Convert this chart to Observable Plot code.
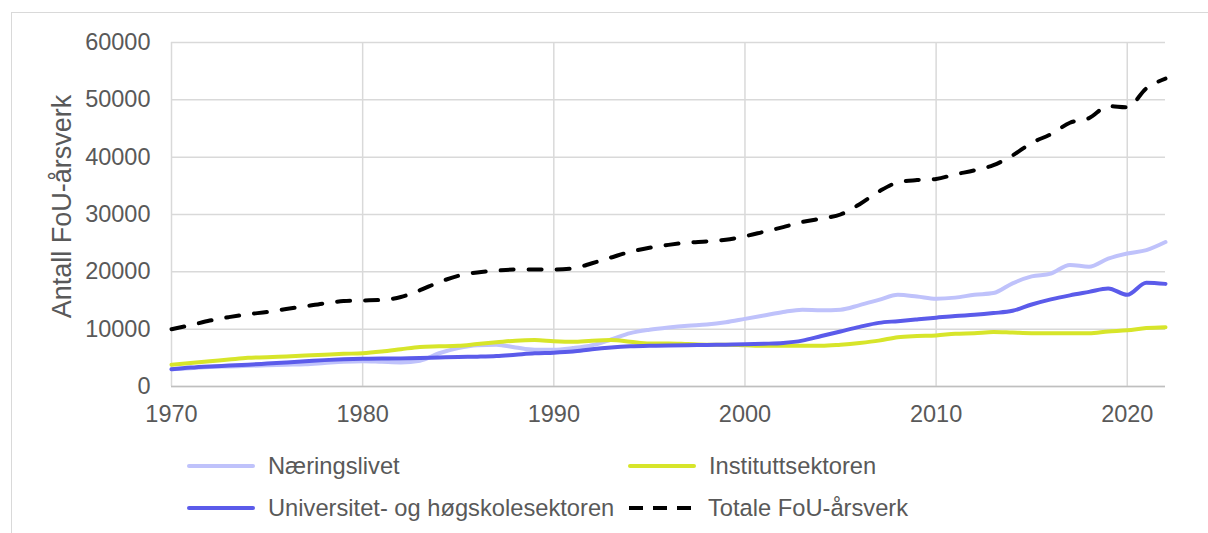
<!DOCTYPE html>
<html>
<head>
<meta charset="utf-8">
<script src="https://cdn.jsdelivr.net/npm/d3@7"></script>
<script src="https://cdn.jsdelivr.net/npm/@observablehq/plot@0.6"></script>
<style>
  html, body { margin: 0; padding: 0; background: #fff; }
  #wrap { position: relative; width: 1208px; height: 533px; overflow: hidden; font-family: "Liberation Sans", Arial, sans-serif; color: #595959; }
  #frame { position: absolute; left: 11px; top: 12px; width: 1200px; height: 530px; border-left: 1.5px solid #d9d9d9; border-top: 1.5px solid #d9d9d9; }
  #chart { position: absolute; left: 0; top: 0; }
  .leg { position: absolute; display: flex; align-items: center; font-size: 23.7px; color: #595959; white-space: nowrap; }
  .leg svg { margin-right: 13px; }
</style>
</head>
<body>
<div id="wrap">
  <div id="frame"></div>
  <div id="chart"></div>
  <div id="legend"></div>
</div>
<script>
const years = d3.range(1970, 2023);
const naeringslivet = [3000,3200,3400,3500,3600,3700,3800,3900,4100,4300,
  4400,4300,4200,4500,5800,6700,7200,7300,6800,6400,
  6400,6700,7200,8200,9300,9900,10300,10600,10800,11200,
  11800,12400,13000,13400,13300,13400,14200,15100,16000,15700,
  15300,15500,16000,16300,18000,19200,19700,21200,20900,22300,
  23200,23800,25200];
const instituttsektoren = [3800,4100,4400,4700,5000,5100,5250,5400,5550,5700,
  5800,6100,6500,6900,7000,7100,7400,7700,8000,8100,
  7900,7800,8000,8100,7800,7500,7500,7400,7300,7300,
  7200,7100,7100,7100,7100,7300,7600,8000,8600,8800,
  8900,9200,9300,9500,9400,9300,9300,9300,9300,9600,
  9800,10200,10350];
const universitet = [3000,3300,3500,3650,3800,4000,4200,4400,4600,4750,
  4850,4900,4900,4950,5050,5150,5200,5300,5550,5800,
  5900,6100,6500,6800,7000,7100,7150,7200,7250,7300,
  7350,7450,7600,8000,8800,9600,10400,11100,11400,11700,
  12000,12300,12500,12800,13200,14300,15200,15900,16500,17100,
  16000,18100,17900];
const totale = [10000,10700,11500,12100,12600,13000,13500,14000,14500,14900,
  15000,15100,15600,16800,18200,19300,19900,20200,20400,20400,
  20400,20600,21500,22500,23500,24200,24700,25100,25300,25600,
  26200,27000,27800,28700,29300,30000,31800,34000,35600,36000,
  36200,37000,37700,38600,40300,42500,44000,46000,46800,48900,
  48700,52000,53700];
const seriesNames = ["Næringslivet", "Instituttsektoren", "Universitet- og høgskolesektoren", "Totale FoU-årsverk"];
const seriesColors = ["#bfc2fb", "#d7e52a", "#5b5bea", "#000000"];
const xTicks = [1970, 1980, 1990, 2000, 2010, 2020];
const yTicks = [0, 10000, 20000, 30000, 40000, 50000, 60000];
const yLabel = "Antall FoU-årsverk";

const valueArrays = [naeringslivet, instituttsektoren, universitet, totale];
const rows = (i) => years.map((yr, j) => ({year: yr, value: valueArrays[i][j], series: seriesNames[i]}));

const lineMark = (i, extra = {}) => Plot.line(rows(i), {
  x: "year", y: "value", stroke: seriesColors[i], strokeWidth: 4,
  curve: "monotone-x", strokeLinejoin: "round", strokeLinecap: "round", ...extra
});

const chart = Plot.plot({
  width: 1208,
  height: 430,
  marginLeft: 171,
  marginRight: 43,
  marginTop: 42,
  marginBottom: 44,
  style: {fontFamily: "'Liberation Sans', Arial, sans-serif", fontSize: "23.5px", color: "#595959", background: "transparent"},
  x: {domain: [1970, 2022], ticks: xTicks},
  y: {domain: [0, 60000], ticks: yTicks},
  marks: [
    Plot.gridY(yTicks, {stroke: "#d9d9d9", strokeOpacity: 1, strokeWidth: 1.5}),
    Plot.gridX(xTicks, {stroke: "#d9d9d9", strokeOpacity: 1, strokeWidth: 1.5}),
    Plot.ruleY([0], {stroke: "#bfbfbf", strokeWidth: 1.5}),
    Plot.axisX(xTicks, {tickSize: 0, tickPadding: 19, tickFormat: d => String(d), label: null, fill: "#595959"}),
    Plot.axisY(yTicks, {tickSize: 0, tickPadding: 21, tickFormat: d => String(d), label: null, fill: "#595959"}),
    Plot.text([yLabel], {frameAnchor: "left", rotate: -90, dx: -109, dy: -8, fontSize: 27, fill: "#595959", textAnchor: "middle", lineAnchor: "middle"}),
    lineMark(0),
    lineMark(1),
    lineMark(2),
    lineMark(3, {strokeDasharray: "13,15", strokeLinecap: "round"})
  ]
});
document.getElementById("chart").appendChild(chart);

// Legend
const legendPos = [
  {left: 187, top: 466},
  {left: 628, top: 466},
  {left: 187, top: 508},
  {left: 627, top: 508}
];
const legend = document.getElementById("legend");
seriesNames.forEach((name, i) => {
  const div = document.createElement("div");
  div.className = "leg";
  div.style.left = legendPos[i].left + "px";
  div.style.top = (legendPos[i].top - 15) + "px";
  div.style.height = "30px";
  const dash = i === 3 ? ' stroke-dasharray="14,10"' : '';
  const cap = i === 3 ? 'butt' : 'round';
  const x1 = i === 3 ? 2 : 2;
  const x2 = i === 3 ? 68 : 66;
  div.innerHTML = `<svg width="68" height="10"><line x1="${x1}" y1="5" x2="${x2}" y2="5" stroke="${seriesColors[i]}" stroke-width="4" stroke-linecap="${cap}"${dash}/></svg><span>${name}</span>`;
  legend.appendChild(div);
});
</script>
</body>
</html>
